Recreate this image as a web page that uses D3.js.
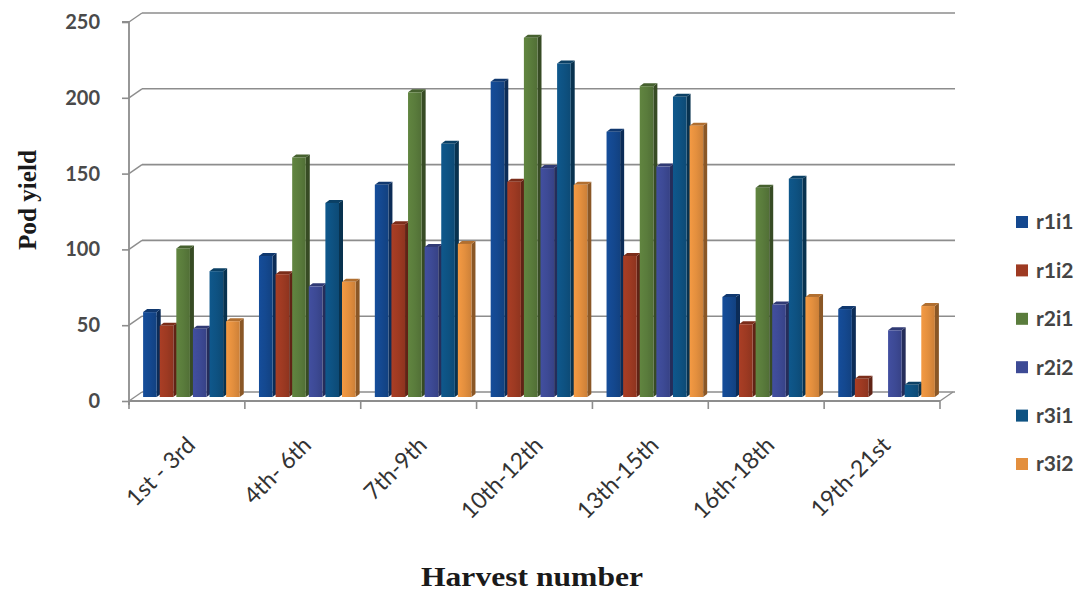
<!DOCTYPE html>
<html>
<head>
<meta charset="utf-8">
<script src="https://cdn.jsdelivr.net/npm/d3@7"></script>
<style>
  html, body { margin: 0; padding: 0; background: #fff; }
  svg { display: block; }
</style>
</head>
<body>
<svg id="chart" width="1091" height="600"></svg>
<script>
// Harvest groups along the x axis
const categories = ["1st - 3rd", "4th- 6th", "7th-9th", "10th-12th", "13th-15th", "16th-18th", "19th-21st"];
// Treatment series
const seriesNames = ["r1i1", "r1i2", "r2i1", "r2i2", "r3i1", "r3i2"];
const r1i1 = [56, 93, 140, 208, 175, 66, 58];
const r1i2 = [47, 81, 114, 142, 93, 48, 12];
const r2i1 = [98, 158, 201, 237, 205, 138, 0];
const r2i2 = [45, 73, 99, 151, 152, 61, 44];
const r3i1 = [83, 128, 167, 220, 198, 144, 8];
const r3i2 = [50, 76, 101, 140, 179, 66, 60];
const seriesColors = ["#14488f", "#9e3a22", "#5a7c3c", "#3d4a95", "#0e5282", "#e38f3e"];
const yTicks = [0, 50, 100, 150, 200, 250];

const seriesValues = [r1i1, r1i2, r2i1, r2i2, r3i1, r3i2];
const rows = categories.map((c, i) => {
  const row = { category: c };
  seriesNames.forEach((s, j) => { row[s] = seriesValues[j][i]; });
  return row;
});

const svg = d3.select("#chart");

// Plot geometry (front plane) and the depth offset of the back wall
const plotLeft = 129, plotRight = 940, plotBottom = 401, plotTop = 22;
const depthX = 13, depthY = -9;

const y = d3.scaleLinear().domain([0, 250]).range([plotBottom, plotTop]);
const x0 = d3.scaleBand().domain(categories).range([plotLeft, plotRight])
  .paddingInner(0.14).paddingOuter(0.07);
const x1 = d3.scaleBand().domain(seriesNames).range([0, x0.bandwidth()]);
const color = d3.scaleOrdinal().domain(seriesNames).range(seriesColors);

const grid = "#8d8d8d";

// Back wall gridlines plus their return along the left wall
const gridG = svg.append("g");
yTicks.forEach(t => {
  const yy = y(t);
  gridG.append("line")
    .attr("x1", plotLeft + depthX).attr("x2", plotRight + depthX + 2)
    .attr("y1", yy + depthY).attr("y2", yy + depthY)
    .attr("stroke", grid).attr("stroke-width", 1.6);
  gridG.append("line")
    .attr("x1", plotLeft).attr("x2", plotLeft + depthX)
    .attr("y1", yy).attr("y2", yy + depthY)
    .attr("stroke", grid).attr("stroke-width", 1.4);
});

// Floor edge on the right side
gridG.append("line")
  .attr("x1", plotRight).attr("x2", plotRight + depthX)
  .attr("y1", plotBottom).attr("y2", plotBottom + depthY)
  .attr("stroke", grid).attr("stroke-width", 1.4);

// Left value axis
const yAxis = d3.axisLeft(y).tickValues(yTicks).tickSize(7).tickPadding(22);
const yAxisG = svg.append("g").attr("transform", `translate(${plotLeft},0)`).call(yAxis);
yAxisG.select(".domain").attr("stroke", grid).attr("stroke-width", 1.8)
  .attr("d", `M-7,${y(250)}H0V${plotBottom + 4}`);
yAxisG.selectAll(".tick line").attr("stroke", grid).attr("stroke-width", 1.6);
yAxisG.selectAll(".tick text")
  .attr("fill", "#4a4a4a")
  .style("font-family", "Lato, 'Open Sans', sans-serif")
  .style("font-size", "20px")
  .style("font-weight", "700");

// Category axis along the floor front edge
const xAxis = d3.axisBottom(x0).tickSize(0).tickPadding(0);
const xAxisG = svg.append("g").attr("transform", `translate(0,${plotBottom})`).call(xAxis);
xAxisG.select(".domain").attr("stroke", grid).attr("stroke-width", 1.8)
  .attr("d", `M${plotLeft},0H${plotRight}`);
xAxisG.selectAll(".tick text").remove();
// tick marks at category boundaries
const step = x0.step();
d3.range(categories.length + 1).forEach(i => {
  const bx = plotLeft + i * step;
  xAxisG.append("line")
    .attr("x1", bx).attr("x2", bx).attr("y1", 0).attr("y2", 8)
    .attr("stroke", grid).attr("stroke-width", 1.6);
});
// rotated category labels
xAxisG.selectAll(".tick").append("text")
  .attr("transform", "translate(4,40) rotate(-45)")
  .attr("text-anchor", "end")
  .attr("dy", "0.35em")
  .attr("fill", "#333")
  .style("font-family", "Lato, 'Open Sans', sans-serif")
  .style("font-size", "23px")
  .text(d => d);

// Bars: front face, right side face and top face to give the 3-D look
const defs = svg.append("defs");
seriesNames.forEach((s, j) => {
  const c = d3.color(seriesColors[j]);
  const g = defs.append("linearGradient").attr("id", "grad-" + s)
    .attr("x1", "0").attr("x2", "1").attr("y1", "0").attr("y2", "0");
  g.append("stop").attr("offset", "0").attr("stop-color", c.brighter(0.2));
  g.append("stop").attr("offset", "0.5").attr("stop-color", c);
  g.append("stop").attr("offset", "1").attr("stop-color", c.darker(0.3));
});

const bd = 4, bdy = -3;          // bar depth offsets
const shiftX = 6, shiftY = -4;   // bars stand in the middle of the floor depth
const bw = x1.bandwidth() - bd + 1;

const groups = svg.append("g").selectAll("g")
  .data(rows).join("g")
  .attr("transform", d => `translate(${x0(d.category) + shiftX},${shiftY})`);

const bars = groups.selectAll("g")
  .data(d => seriesNames.map(s => ({ key: s, value: d[s] })))
  .join("g");

bars.each(function(d) {
  const g = d3.select(this);
  const bx = x1(d.key);
  const by = y(d.value);
  const h = y(0) - by;
  const c = d3.color(color(d.key));
  if (h <= 0.5) return;
  // side face
  g.append("path")
    .attr("d", `M${bx + bw},${by}L${bx + bw + bd},${by + bdy}L${bx + bw + bd},${y(0) + bdy}L${bx + bw},${y(0)}Z`)
    .attr("fill", c.darker(1.4));
  // top face
  g.append("path")
    .attr("d", `M${bx},${by}L${bx + bd},${by + bdy}L${bx + bw + bd},${by + bdy}L${bx + bw},${by}Z`)
    .attr("fill", c.darker(0.7));
  // front face
  g.append("rect")
    .attr("x", bx).attr("y", by)
    .attr("width", bw).attr("height", h)
    .attr("fill", `url(#grad-${d.key})`);
});

// Axis titles
svg.append("text")
  .attr("transform", `translate(36,200) rotate(-90)`)
  .attr("text-anchor", "middle")
  .attr("fill", "#1a1a1a")
  .attr("textLength", 100)
  .attr("lengthAdjust", "spacingAndGlyphs")
  .style("font-family", "'Liberation Serif', 'DejaVu Serif', serif")
  .style("font-size", "25px")
  .style("font-weight", "700")
  .text("Pod yield");

svg.append("text")
  .attr("x", 532).attr("y", 586)
  .attr("text-anchor", "middle")
  .attr("fill", "#1a1a1a")
  .attr("textLength", 222)
  .attr("lengthAdjust", "spacingAndGlyphs")
  .style("font-family", "'Liberation Serif', 'DejaVu Serif', serif")
  .style("font-size", "27px")
  .style("font-weight", "700")
  .text("Harvest number");

// Legend
const legend = svg.append("g").attr("transform", "translate(1016,222)");
const legendRow = d3.scalePoint().domain(seriesNames).range([0, 242]);
const items = legend.selectAll("g").data(seriesNames).join("g")
  .attr("transform", s => `translate(0,${legendRow(s)})`);
items.append("rect")
  .attr("x", 0).attr("y", -6).attr("width", 12).attr("height", 12)
  .attr("fill", s => color(s));
items.append("text")
  .attr("x", 20).attr("y", 0).attr("dy", "0.35em")
  .attr("fill", "#444")
  .style("font-family", "Lato, 'Open Sans', sans-serif")
  .style("font-size", "21px")
  .style("font-weight", "700")
  .text(s => s);
</script>
</body>
</html>
